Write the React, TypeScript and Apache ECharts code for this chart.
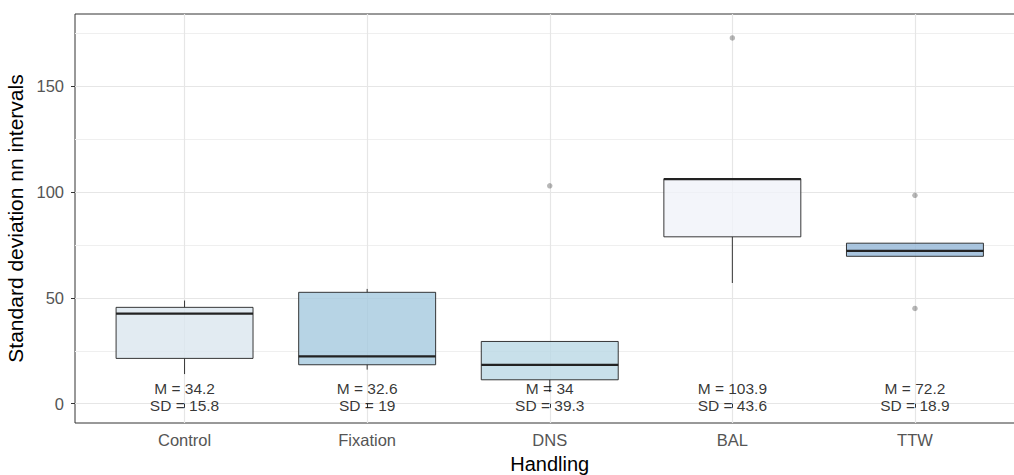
import React, { useEffect, useRef } from "react";
import * as echarts from "echarts";

const categories = ["Control", "Fixation", "DNS", "BAL", "TTW"];
const whiskerLow = [14.0, 16.1, 5.5, 57.0, 69.6];
const q1 = [21.4, 18.4, 11.3, 78.8, 69.6];
const median = [42.5, 22.4, 18.3, 106.0, 72.2];
const q3 = [45.5, 52.6, 29.4, 106.2, 75.8];
const whiskerHigh = [48.7, 54.2, 29.4, 106.2, 75.8];
const outliers: [number, number][] = [
  [3, 102.9],
  [4, 172.7],
  [5, 98.4],
  [5, 45.0],
];
const means = ["34.2", "32.6", "34", "103.9", "72.2"];
const sds = ["15.8", "19", "39.3", "43.6", "18.9"];
const boxColors = ["#DBE6EF", "#A5C9DF", "#BAD8E5", "#F0F3F9", "#94B7D7"];
const yTicks = [0, 50, 100, 150];
const yMinorLines = [25, 75, 125, 175];
const annotationY = 3.1;

const FONT = "'Liberation Sans', Arial, sans-serif";

export default function App() {
  const ref = useRef<HTMLDivElement>(null);
  useEffect(() => {
    if (!ref.current) return;
    const chart = echarts.init(ref.current, undefined, { renderer: "svg" });
    const xs = categories.map((_, i) => i + 1);
    const boxData = categories.map((_, i) => [
      i + 1,
      whiskerLow[i],
      q1[i],
      median[i],
      q3[i],
      whiskerHigh[i],
    ]);
    const gridLines = [
      ...yMinorLines.map((v) => ({ yAxis: v, lineStyle: { color: "#EFEFEF", width: 1, type: "solid" } })),
      ...yTicks.map((v) => ({ yAxis: v, lineStyle: { color: "#E6E6E6", width: 1.2, type: "solid" } })),
      ...xs.map((v) => ({ xAxis: v, lineStyle: { color: "#E6E6E6", width: 1.2, type: "solid" } })),
    ];
    chart.setOption({
      animation: false,
      textStyle: { fontFamily: FONT },
      grid: {
        left: 75,
        top: 14,
        right: -10.5,
        bottom: 52,
        show: true,
        borderColor: "#333333",
        borderWidth: 1,
        backgroundColor: "transparent",
        containLabel: false,
        outerBoundsMode: "none",
      },
      xAxis: {
        type: "value",
        min: 0.4,
        max: 5.6,
        name: "Handling",
        nameLocation: "middle",
        nameGap: 31,
        nameTextStyle: { fontSize: 20, color: "#000", fontFamily: FONT },
        axisLine: { show: false },
        splitLine: { show: false },
        axisTick: { show: true, length: 4, lineStyle: { color: "#333" }, customValues: xs },
        axisLabel: {
          customValues: xs,
          formatter: (v: number) => categories[Math.round(v) - 1] ?? "",
          fontSize: 16.5,
          color: "#555555",
          margin: 8,
          fontFamily: FONT,
        },
      },
      yAxis: {
        type: "value",
        min: -9.1,
        max: 184.0,
        name: "Standard deviation nn intervals",
        nameLocation: "middle",
        nameGap: 32,
        nameTextStyle: { fontSize: 21, color: "#000", fontFamily: FONT },
        axisLine: { show: false },
        splitLine: { show: false },
        axisTick: { show: true, length: 4, lineStyle: { color: "#333" }, customValues: yTicks },
        axisLabel: {
          customValues: yTicks,
          fontSize: 16.5,
          color: "#555555",
          margin: 11,
          fontFamily: FONT,
        },
      },
      series: [
        {
          type: "line",
          data: [],
          silent: true,
          z: 0,
          markLine: {
            silent: true,
            symbol: "none",
            z: 0,
            label: { show: false },
            emphasis: { disabled: true },
            lineStyle: { type: "solid" },
            data: gridLines,
          },
        },
        {
          type: "custom",
          z: 3,
          data: boxData,
          encode: { x: 0, y: [1, 2, 3, 4, 5] },
          renderItem: (params: any, api: any) => {
            const x = api.value(0);
            const pLo = api.coord([x, api.value(1)]);
            const pQ1 = api.coord([x, api.value(2)]);
            const pMed = api.coord([x, api.value(3)]);
            const pQ3 = api.coord([x, api.value(4)]);
            const pHi = api.coord([x, api.value(5)]);
            const halfW = api.size([0.75, 0])[0] / 2;
            const cx = pMed[0];
            const stroke = "rgba(34,34,34,0.9)";
            return {
              type: "group",
              children: [
                {
                  type: "line",
                  shape: { x1: cx, y1: pLo[1], x2: cx, y2: pQ1[1] },
                  style: { stroke, lineWidth: 1 },
                },
                {
                  type: "line",
                  shape: { x1: cx, y1: pQ3[1], x2: cx, y2: pHi[1] },
                  style: { stroke, lineWidth: 1 },
                },
                {
                  type: "rect",
                  shape: { x: cx - halfW, y: pQ3[1], width: halfW * 2, height: pQ1[1] - pQ3[1] },
                  style: {
                    fill: boxColors[params.dataIndex],
                    opacity: 0.8,
                    stroke: "none",
                  },
                },
                {
                  type: "rect",
                  shape: { x: cx - halfW, y: pQ3[1], width: halfW * 2, height: pQ1[1] - pQ3[1] },
                  style: { fill: "none", stroke, lineWidth: 1 },
                },
                {
                  type: "line",
                  shape: { x1: cx - halfW, y1: pMed[1], x2: cx + halfW, y2: pMed[1] },
                  style: { stroke: "#222", lineWidth: 2.2 },
                },
              ],
            };
          },
        },
        {
          type: "scatter",
          z: 4,
          data: outliers,
          symbolSize: 5.5,
          itemStyle: { color: "rgba(0,0,0,0.35)" },
          silent: true,
        },
        {
          type: "scatter",
          z: 5,
          data: xs.map((x) => [x, annotationY]),
          symbolSize: 0,
          silent: true,
          label: {
            show: true,
            position: "inside",
            formatter: (p: any) => `M = ${means[p.dataIndex]}\nSD = ${sds[p.dataIndex]}`,
            fontSize: 15.5,
            lineHeight: 17,
            color: "#000",
            fontFamily: FONT,
            align: "center",
            verticalAlign: "middle",
          },
        },
      ],
    });
    return () => chart.dispose();
  }, []);
  return (
    <div
      ref={ref}
      style={{ position: "absolute", left: 0, top: 0, width: 1014, height: 475 }}
    />
  );
}
